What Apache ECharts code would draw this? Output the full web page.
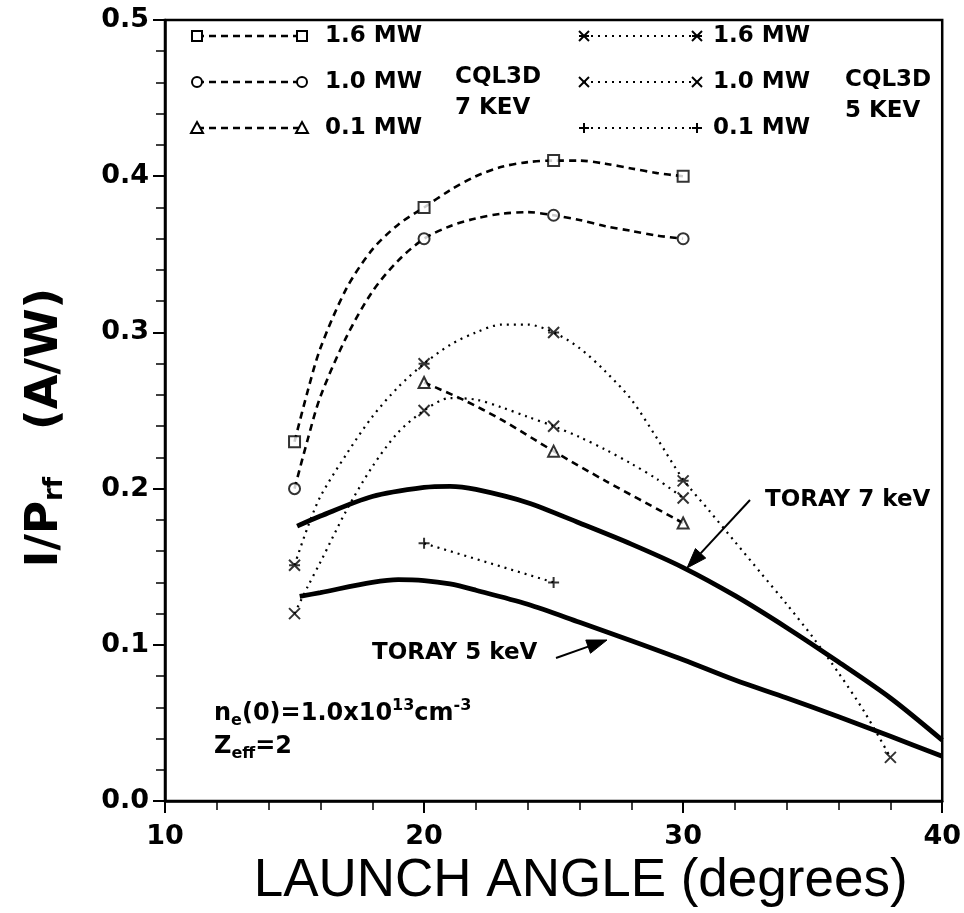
<!DOCTYPE html>
<html><head><meta charset="utf-8">
<script src="https://cdn.jsdelivr.net/npm/echarts@6/dist/echarts.min.js"></script>
<style>html,body{margin:0;padding:0;background:#fff}#c{width:964px;height:913px}</style>
</head><body><div id="c"></div><script>
// ---- data ----
const xTickValues = [10, 20, 30, 40];
const yTickValues = [0.0, 0.1, 0.2, 0.3, 0.4, 0.5];

// CQL3D markers
const angles7 = [15, 20, 25, 30];
const cql7_16MW = [0.23, 0.38, 0.41, 0.40];
const cql7_10MW = [0.20, 0.36, 0.375, 0.36];
const angles7_01 = [20, 25, 30];
const cql7_01MW = [0.268, 0.224, 0.178];
const angles5_16 = [15, 20, 25, 30, 38];
const cql5_16MW = [0.151, 0.28, 0.30, 0.205, 0.028];
const angles5_10 = [15, 20, 25, 30];
const cql5_10MW = [0.12, 0.25, 0.24, 0.194];
const angles5_01 = [20, 25];
const cql5_01MW = [0.165, 0.14];

// fitted curves as drawn in the reference
const curveX7 = [15, 15.5, 16, 17, 18, 19, 20, 21, 22, 23, 24, 25, 26, 27, 28, 29, 30];
const curve7_16MW = [0.23, 0.262, 0.29, 0.328, 0.353, 0.369, 0.38, 0.391, 0.40, 0.406, 0.409, 0.41, 0.41, 0.408, 0.405, 0.402, 0.40];
const curve7_10MW = [0.20, 0.231, 0.259, 0.297, 0.326, 0.346, 0.36, 0.368, 0.373, 0.376, 0.377, 0.375, 0.372, 0.368, 0.365, 0.362, 0.36];
const curveX7_01 = [20, 21.5, 23, 25, 27, 30];
const curve7_01MW = [0.268, 0.257, 0.244, 0.224, 0.205, 0.178];
const curveX5_16 = [15, 15.5, 16, 17, 18, 19, 20, 21, 22, 23, 24, 25, 26, 27, 28, 29, 30, 31, 32, 33, 34, 35, 36, 37, 38];
const curve5_16MW = [0.151, 0.175, 0.195, 0.222, 0.246, 0.265, 0.28, 0.292, 0.30, 0.305, 0.305, 0.30, 0.29, 0.275, 0.257, 0.232, 0.206, 0.186, 0.166, 0.146, 0.126, 0.105, 0.082, 0.057, 0.028];
const curveX5_10 = [15, 15.5, 16, 17, 18, 19, 20, 21, 22, 23, 24, 25, 26, 27, 28, 29, 30];
const curve5_10MW = [0.12, 0.137, 0.153, 0.186, 0.214, 0.236, 0.25, 0.258, 0.257, 0.252, 0.246, 0.24, 0.233, 0.225, 0.216, 0.206, 0.194];

// TORAY curves
const torayAngles7 = [15.1, 16, 18, 20, 21, 22, 24, 26, 28, 30, 32, 34, 36, 38, 40];
const toray7keV = [0.176, 0.1825, 0.195, 0.2008, 0.2015, 0.1995, 0.191, 0.178, 0.1645, 0.1495, 0.1315, 0.111, 0.089, 0.066, 0.039];
const torayAngles5 = [15.2, 16, 18, 19, 20, 21, 22, 24, 26, 28, 30, 32, 34, 36, 38, 40];
const toray5keV = [0.131, 0.1335, 0.140, 0.1418, 0.1412, 0.139, 0.135, 0.126, 0.1145, 0.1027, 0.0905, 0.0775, 0.066, 0.054, 0.0415, 0.0287];

const legendLabels = ['1.6 MW', '1.0 MW', '0.1 MW'];
const groupLabels = ['CQL3D\n7 KEV', 'CQL3D\n5 KEV'];
const torayLabels = ['TORAY 7 keV', 'TORAY 5 keV'];

// ---- helpers ----
const pairs = (xs, ys) => xs.map((x, i) => [x, ys[i]]);
const STAR = 'path://M0,0L10,10M10,0L0,10M0,5L10,5';
const CROSS = 'path://M0,0L10,10M10,0L0,10';
const PLUS = 'path://M0,5L10,5M5,0L5,10';
const BOLD = 'DejaVu Sans';
const DASH = [7, 5];
const DOT = [2, 5];

function curve(data, dashed, smooth) {
  return { type: 'line', data: data, smooth: smooth == null ? 0.3 : smooth, symbol: 'none', showSymbol: false,
    lineStyle: { color: '#000', width: dashed ? 2.6 : 2.2, type: dashed ? DASH : DOT }, z: 3 };
}
function marks(data, symbol) {
  return { type: 'scatter', data: data, symbol: symbol, symbolSize: 11,
    itemStyle: { color: '#000', borderColor: '#000', borderWidth: 2 }, z: 4 };
}

const series = [
  curve(pairs(curveX7, curve7_16MW), true), marks(pairs(angles7, cql7_16MW), 'emptyRect'),
  curve(pairs(curveX7, curve7_10MW), true), marks(pairs(angles7, cql7_10MW), 'emptyCircle'),
  curve(pairs(curveX7_01, curve7_01MW), true), marks(pairs(angles7_01, cql7_01MW), 'emptyTriangle'),
  curve(pairs(curveX5_16, curve5_16MW), false),
  marks(pairs(angles5_16, cql5_16MW).map((p, i) => i === 4 ? { value: p, symbol: CROSS } : p), STAR),
  curve(pairs(curveX5_10, curve5_10MW), false), marks(pairs(angles5_10, cql5_10MW), CROSS),
  curve(pairs(angles5_01, cql5_01MW), false, false), marks(pairs(angles5_01, cql5_01MW), PLUS),
  { type: 'line', data: pairs(torayAngles7, toray7keV), smooth: 0.3, showSymbol: false, symbol: 'none',
    lineStyle: { color: '#000', width: 4.8 }, z: 2 },
  { type: 'line', data: pairs(torayAngles5, toray5keV), smooth: 0.3, showSymbol: false, symbol: 'none',
    lineStyle: { color: '#000', width: 4.8 }, z: 2 }
];

// ---- legend / annotations as graphics ----
const g = [];
function marker(kind, cx, cy) {
  const st = { fill: '#fff', stroke: '#000', lineWidth: 2 };
  if (kind === 'rect') return { type: 'rect', shape: { x: cx - 5, y: cy - 5, width: 10, height: 10 }, style: st };
  if (kind === 'circle') return { type: 'circle', shape: { cx: cx, cy: cy, r: 5 }, style: st };
  if (kind === 'tri') return { type: 'polygon', shape: { points: [[cx, cy - 6], [cx + 6, cy + 5], [cx - 6, cy + 5]] }, style: st };
  const segs = [];
  if (kind === 'star' || kind === 'cross') { segs.push([cx - 5, cy - 5, cx + 5, cy + 5], [cx + 5, cy - 5, cx - 5, cy + 5]); }
  if (kind === 'star' || kind === 'plus') segs.push([cx - 5, cy, cx + 5, cy]);
  if (kind === 'plus') segs.push([cx, cy - 5, cx, cy + 5]);
  return { type: 'group', children: segs.map(s => ({ type: 'line', shape: { x1: s[0], y1: s[1], x2: s[2], y2: s[3] },
    style: { stroke: '#000', lineWidth: 2 } })) };
}
function text(x, y, str, size, opts) {
  g.push({ type: 'text', x: x, y: y, style: Object.assign({ text: str, font: 'bold ' + size + 'px "' + BOLD + '"',
    fill: '#000', align: 'left', verticalAlign: 'middle' }, opts || {}) });
}
function legendRow(y, x1, x2, kind, dashed, label, tx) {
  g.push({ type: 'line', shape: { x1: x1, y1: y, x2: x2, y2: y },
    style: { stroke: '#000', lineWidth: dashed ? 2.6 : 2, lineDash: dashed ? DASH : DOT } });
  [x1, x2].forEach(cx => g.push(marker(kind, cx, y)));
  text(tx, y, label, 23);
}
function arrow(x1, y1, x2, y2) {
  const dx = x2 - x1, dy = y2 - y1, L = Math.hypot(dx, dy), ux = dx / L, uy = dy / L;
  const hl = 20, hw = 7, bx = x2 - ux * hl, by = y2 - uy * hl;
  g.push({ type: 'line', shape: { x1: x1, y1: y1, x2: bx, y2: by }, style: { stroke: '#000', lineWidth: 2 } });
  g.push({ type: 'polygon', shape: { points: [[x2, y2], [bx - uy * hw, by + ux * hw], [bx + uy * hw, by - ux * hw]] },
    style: { fill: '#000', stroke: '#000' } });
}

const rowsY = [36, 82, 128];
['rect', 'circle', 'tri'].forEach((k, i) => legendRow(rowsY[i], 197, 302, k, true, legendLabels[i], 325));
['star', 'cross', 'plus'].forEach((k, i) => legendRow(rowsY[i], 584, 697, k, false, legendLabels[i], 713));
text(455, 93, groupLabels[0], 23, { lineHeight: 31 });
text(845, 96, groupLabels[1], 23, { lineHeight: 31 });
text(765, 500, torayLabels[0], 23);
text(372, 653, torayLabels[1], 23);
arrow(750, 500, 687, 568);
arrow(556, 658, 607, 640);

const annRich = {
  m: { fontFamily: BOLD, fontWeight: 'bold', fontSize: 24, lineHeight: 24 },
  sb: { fontFamily: BOLD, fontWeight: 'bold', fontSize: 16, lineHeight: 16, padding: [14, 0, 0, 0] },
  sp: { fontFamily: BOLD, fontWeight: 'bold', fontSize: 16, lineHeight: 16, padding: [0, 0, 16, 0] }
};
g.push({ type: 'text', x: 214, y: 714, style: { text: '{m|n}{sb|e}{m|(0)=1.0x10}{sp|13}{m|cm}{sp|-3}', rich: annRich,
  fill: '#000', align: 'left', verticalAlign: 'middle' } });
g.push({ type: 'text', x: 214, y: 747, style: { text: '{m|Z}{sb|eff}{m|=2}', rich: annRich,
  fill: '#000', align: 'left', verticalAlign: 'middle' } });

const option = {
  animation: false,
  backgroundColor: '#fff',
  grid: { left: 165, right: 19, top: 20, bottom: 108, show: true, borderColor: '#000', borderWidth: 2.5 },
  xAxis: {
    type: 'value', min: xTickValues[0], max: xTickValues[xTickValues.length - 1], interval: 10,
    axisLine: { onZero: false, lineStyle: { color: '#000', width: 2.5 } },
    axisTick: { length: 12, lineStyle: { color: '#000', width: 2 } },
    minorTick: { show: true, splitNumber: 5, length: 9, lineStyle: { color: '#000', width: 1.5 } },
    splitLine: { show: false }, minorSplitLine: { show: false },
    axisLabel: { color: '#000', fontSize: 27, fontWeight: 'bold', fontFamily: BOLD, margin: 22 },
    name: 'LAUNCH ANGLE (degrees)', nameLocation: 'middle', nameGap: 44,
    nameTextStyle: { color: '#000', fontSize: 53, fontFamily: 'Liberation Sans', padding: [0, 0, 0, 54] }
  },
  yAxis: {
    type: 'value', min: yTickValues[0], max: yTickValues[yTickValues.length - 1], interval: 0.1,
    axisLine: { onZero: false, lineStyle: { color: '#000', width: 2.5 } },
    axisTick: { length: 12, lineStyle: { color: '#000', width: 2 } },
    minorTick: { show: true, splitNumber: 5, length: 9, lineStyle: { color: '#000', width: 1.5 } },
    splitLine: { show: false }, minorSplitLine: { show: false },
    axisLabel: { color: '#000', fontSize: 27, fontWeight: 'bold', fontFamily: BOLD, margin: 16,
      formatter: v => v.toFixed(1) },
    name: '{m|I/P}{s|rf}{m|   (A/W)}', nameLocation: 'middle', nameGap: 97, nameRotate: 90,
    nameTextStyle: { color: '#000', padding: [0, 34, 0, 0], rich: {
      m: { fontSize: 45, fontWeight: 'bold', fontFamily: BOLD, lineHeight: 45, verticalAlign: 'top', padding: [0, 0, 7, 0] },
      s: { fontSize: 26, fontWeight: 'bold', fontFamily: BOLD, lineHeight: 26, verticalAlign: 'bottom' } } }
  },
  series: series,
  graphic: g
};
const chart = echarts.init(document.getElementById('c'), null, { renderer: 'canvas' });
chart.setOption(option);
</script></body></html>
